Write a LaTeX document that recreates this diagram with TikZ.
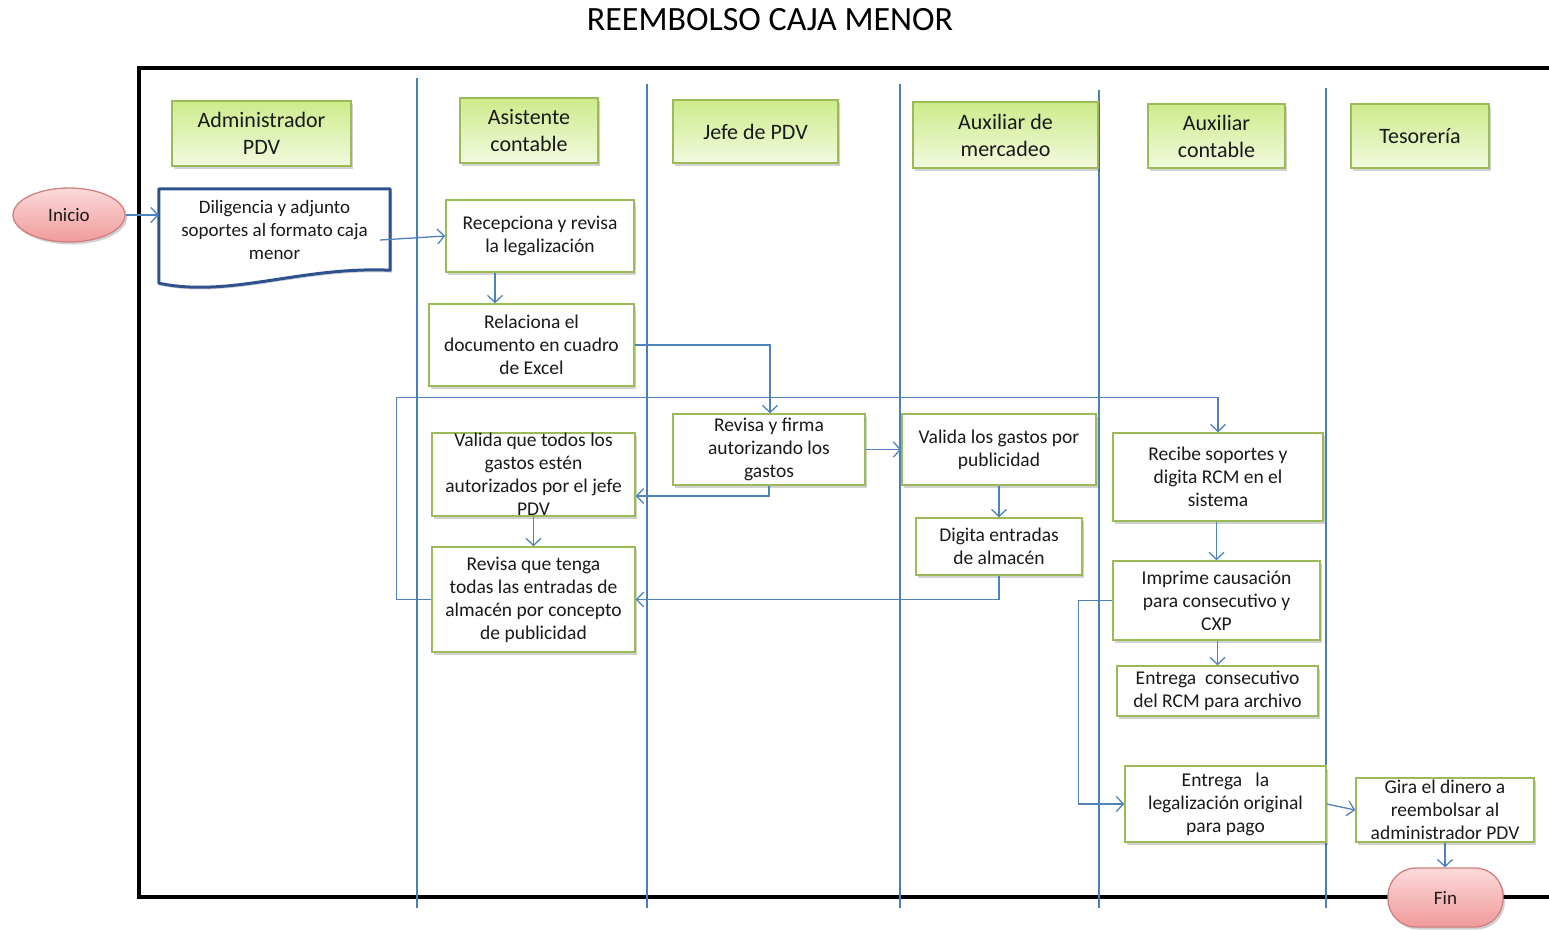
\documentclass[tikz,border=0pt]{standalone}
\usepackage{fontspec}
\setmainfont{Carlito}
\usetikzlibrary{arrows.meta,shadows,calc,shapes.geometric}

\definecolor{boxgreen}{HTML}{9BBB59}
\definecolor{hdtop}{HTML}{CDEB8B}
\definecolor{hdbot}{HTML}{F2FADF}
\definecolor{flowblue}{HTML}{4F81BD}
\definecolor{lanebl}{HTML}{4A7EBB}
\definecolor{docblue}{HTML}{2F528F}
\definecolor{pinktop}{HTML}{FCDADA}
\definecolor{pinkbot}{HTML}{F09A9A}
\definecolor{pinkedge}{HTML}{D08080}
\definecolor{ink}{HTML}{1A1A1A}

\tikzset{
  softshadow/.style={drop shadow={shadow xshift=2pt,shadow yshift=-2.5pt,fill=black,opacity=.18}},
  header/.style={draw=boxgreen, line width=1.4pt, top color=hdtop, bottom color=hdbot,
    align=center, inner sep=0pt, text=ink, softshadow,
    font={\fontsize{22}{27}\selectfont}},
  task/.style={draw=boxgreen, line width=1.5pt, fill=white, align=center, inner sep=0pt,
    text=ink, softshadow, font={\fontsize{19.5}{23}\selectfont}},
  terminal/.style={draw=pinkedge, line width=1.3pt, top color=pinktop, bottom color=pinkbot,
    align=center, inner sep=0pt, text=ink, softshadow, font={\fontsize{19}{23}\selectfont}},
  lane/.style={draw=lanebl, line width=1.2pt},
  link/.style={draw=flowblue, line width=1.3pt,
    -{Straight Barb[length=7pt,width=15pt,line width=1.3pt]}}
}

\begin{document}
\begin{tikzpicture}[x=1pt,y=-1pt]
\useasboundingbox (0,0) rectangle (1549,929);

% title
\node[font={\fontsize{34}{40}\selectfont}, text=black] (title) at (770,20) {REEMBOLSO CAJA MENOR};

% outer frame (open on the right)
\draw[line width=4pt] (1560,68) -- (139,68) -- (139,897) -- (1560,897);

% lane separators
\draw[lane] (417,78) -- (417,908);
\draw[lane] (647,84) -- (647,908);
\draw[lane] (900,84) -- (900,908);
\draw[lane] (1099,90) -- (1099,908);
\draw[lane] (1326,88) -- (1326,908);

% lane headers
\node[header, minimum width=179pt, minimum height=65pt] (hAdmin) at (261.5,133.5) {Administrador\\PDV};
\node[header, minimum width=138pt, minimum height=65pt] (hAsis) at (529,130.5) {Asistente\\contable};
\node[header, minimum width=165pt, minimum height=63pt] (hJefe) at (755.5,131.5) {Jefe de PDV};
\node[header, minimum width=185pt, minimum height=66pt] (hMerc) at (1005.5,135) {Auxiliar de\\mercadeo};
\node[header, minimum width=137pt, minimum height=64pt] (hAuxc) at (1216.5,136) {Auxiliar\\contable};
\node[header, minimum width=138pt, minimum height=64pt] (hTes) at (1420,136) {Tesorería};

% start / end
\node[terminal, ellipse, minimum width=112pt, minimum height=54pt] (inicio) at (69,215) {Inicio};
\node[terminal, rectangle, rounded corners=28pt, minimum width=115pt, minimum height=59pt] (fin) at (1445.5,897.5) {Fin};

% document shape (wavy lower edge)
\node[inner sep=0pt, minimum width=231pt, minimum height=81pt] (doc) at (274.5,229.5) {};
\fill[black,opacity=.18] ([shift={(2,2.5)}]doc.north west) -- ([shift={(2,2.5)}]doc.north east)
  -- ([shift={(2,2.5)}]doc.south east)
  .. controls ([shift={(-88,-2)}]doc.south east) and ([shift={(-158,30)}]doc.south east) .. ([shift={(2,15.5)}]doc.south west) -- cycle;
\draw[docblue, line width=3pt, fill=white, line join=round]
  (doc.north west) -- (doc.north east) -- (doc.south east)
  .. controls ([shift={(-90,-4)}]doc.south east) and ([shift={(-160,28)}]doc.south east) .. ([yshift=-13pt]doc.south west)
  -- cycle;
\node[inner sep=0pt, align=center, text=ink, font={\fontsize{19}{23}\selectfont}] (doctext) at (doc.center)
  {Diligencia y adjunto\\soportes al formato caja\\menor};

% tasks
\node[task, minimum width=188pt, minimum height=72pt] (recep) at (540,236) {Recepciona y revisa\\la legalización};
\node[task, minimum width=205pt, minimum height=82pt] (rel) at (531.5,345) {Relaciona el\\documento en cuadro\\de Excel};
\node[task, minimum width=192pt, minimum height=71pt] (firma) at (769,449.5) {Revisa y firma\\autorizando los\\gastos};
\node[task, minimum width=203pt, minimum height=83pt] (valida) at (533.5,474.5) {Valida que todos los\\gastos estén\\autorizados por el jefe\\PDV};
\node[task, minimum width=203pt, minimum height=105pt] (revisa) at (533.5,599.5) {Revisa que tenga\\todas las entradas de\\almacén por concepto\\de publicidad};
\node[task, minimum width=194pt, minimum height=71pt] (vpub) at (999,449.5) {Valida los gastos por\\publicidad};
\node[task, minimum width=166pt, minimum height=57pt] (digita) at (999,546.5) {Digita entradas\\de almacén};
\node[task, minimum width=210pt, minimum height=88pt] (recibe) at (1218,477) {Recibe soportes y\\digita RCM en el\\sistema};
\node[task, minimum width=207pt, minimum height=79pt] (imprime) at (1216.5,600.5) {Imprime causación\\para consecutivo y\\CXP};
\node[task, minimum width=201pt, minimum height=50pt] (entcons) at (1217.5,691) {Entrega\ \ consecutivo\\del RCM para archivo};
\node[task, minimum width=201pt, minimum height=76pt] (entleg) at (1225.5,804) {Entrega\ \ \ la\\legalización original\\para pago};
\node[task, minimum width=178pt, minimum height=64pt] (gira) at (1445,810) {Gira el dinero a\\reembolsar al\\administrador PDV};

% helper points for the routed connectors
\coordinate (loopL) at ($(revisa.west)+(-35,0)$);
\coordinate (loopT) at ($(recibe.north)+(0,-35)$);
\coordinate (impL) at ($(imprime.west)+(-34,0)$);
\coordinate (docOut) at ($(doc.east)+(-10,10.5)$);

% connectors
\draw[link] (inicio.east) -- (inicio.east -| doc.west);
\draw[link] (docOut) -- (recep.west);
\draw[link] ([xshift=-45pt]recep.south) -- ([xshift=-45pt]recep.south |- rel.north);
\draw[link] (rel.east) -| ([xshift=1pt]firma.north);
\draw[link] (firma.south) |- ([yshift=-21.5pt]valida.east);
\draw[link] (firma.east) -- (vpub.west);
\draw[link] (valida.south) -- (revisa.north);
\draw[link] (vpub.south) -- (digita.north);
\draw[link] (digita.south) |- (revisa.east);
\draw[link] (revisa.west) -- (loopL) |- (loopT) -- (recibe.north);
\draw[link] ([xshift=-1.5pt]recibe.south) -- ([xshift=-1.5pt]recibe.south |- imprime.north);
\draw[link] ([xshift=1pt]imprime.south) -- ([xshift=1pt]imprime.south |- entcons.north);
\draw[link] (imprime.west) -- (impL) |- (entleg.west);
\draw[link] (entleg.east) -- (gira.west);
\draw[link] (gira.south) -- (gira.south |- fin.north);

\end{tikzpicture}
\end{document}
